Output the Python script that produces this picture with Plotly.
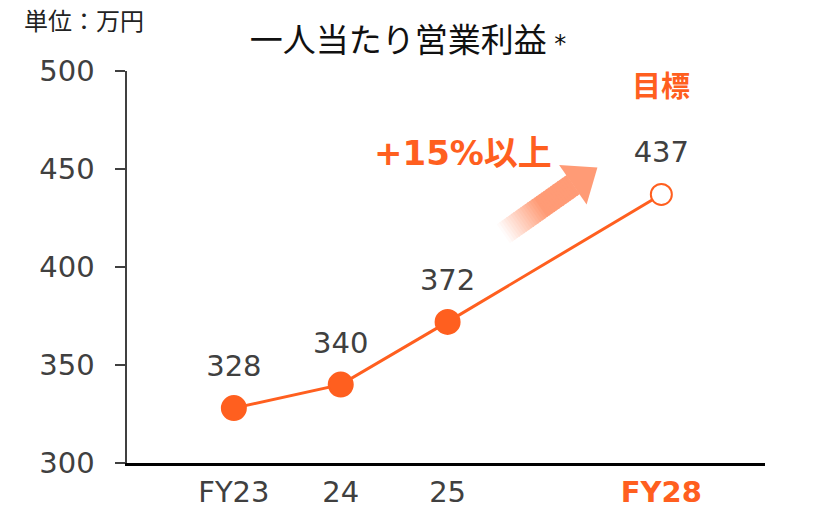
import math
import plotly.graph_objects as go

# ---- data ----
categories = ["FY23", "24", "25", "FY28"]
x_pos = [0, 1, 2, 4]
values = [328, 340, 372, 437]
y_ticks = [300, 350, 400, 450, 500]

ORANGE = "#FF5F1F"
GRAY = "#404040"
FONT = "DejaVu Sans, Noto Sans CJK JP, sans-serif"

fig = go.Figure()

fig.add_trace(go.Scatter(
    x=x_pos, y=values,
    mode="lines+markers",
    line=dict(color=ORANGE, width=3),
    marker=dict(size=[24, 24, 24, 21], opacity=1,
                color=[ORANGE, ORANGE, ORANGE, "white"],
                line=dict(color=ORANGE, width=2)),
    cliponaxis=False,
    hoverinfo="skip",
))
# value labels (invisible larger markers give the label offset)
fig.add_trace(go.Scatter(
    x=x_pos, y=values,
    mode="markers+text",
    text=[str(v) for v in values],
    textposition="top center",
    textfont=dict(size=29, color=GRAY, family=FONT),
    marker=dict(size=38, opacity=0),
    cliponaxis=False,
    hoverinfo="skip",
))

# ---- gradient arrow (decoration) ----
def px2x(px):
    return (px - 233) / 107.0

def py2y(py):
    return 300 + (463 - py) / 1.95

tip = (597.0, 169.0)
ang = math.radians(35)
u = (math.cos(ang), -math.sin(ang))
n = (math.sin(ang), math.cos(ang))
head_len = 30.0
head_hw = 24.0
shaft_hw = 11.5
shaft_len = 85.0
base = (tip[0] - u[0] * head_len, tip[1] - u[1] * head_len)

N = 30
c_start = (255, 255, 255)
c_end = (255, 155, 118)
for i in range(N):
    t0 = i / N
    t1 = min((i + 1) / N + 0.01, 1.0)
    a = (base[0] - u[0] * shaft_len * (1 - t0), base[1] - u[1] * shaft_len * (1 - t0))
    b = (base[0] - u[0] * shaft_len * (1 - t1) + u[0] * 0.5,
         base[1] - u[1] * shaft_len * (1 - t1) + u[1] * 0.5)
    f = min(1.0, (t0 + 0.5 / N) / 0.55)
    col = tuple(int(c_start[k] + (c_end[k] - c_start[k]) * f) for k in range(3))
    pts = [
        (a[0] + n[0] * shaft_hw, a[1] + n[1] * shaft_hw),
        (b[0] + n[0] * shaft_hw, b[1] + n[1] * shaft_hw),
        (b[0] - n[0] * shaft_hw, b[1] - n[1] * shaft_hw),
        (a[0] - n[0] * shaft_hw, a[1] - n[1] * shaft_hw),
    ]
    path = "M " + " L ".join(f"{px2x(p[0])},{py2y(p[1])}" for p in pts) + " Z"
    fig.add_shape(type="path", path=path, xref="x", yref="y",
                  fillcolor=f"rgb{col}", line=dict(width=0), layer="below")

head = [
    (base[0] + n[0] * head_hw, base[1] + n[1] * head_hw),
    tip,
    (base[0] - n[0] * head_hw, base[1] - n[1] * head_hw),
]
path = "M " + " L ".join(f"{px2x(p[0])},{py2y(p[1])}" for p in head) + " Z"
fig.add_shape(type="path", path=path, xref="x", yref="y",
              fillcolor=f"rgb{c_end}", line=dict(width=0), layer="below")

# ---- annotations ----
fig.add_annotation(x=4, y=492, xref="x", yref="y", text="<b>目標</b>",
                   showarrow=False, font=dict(size=29, color=ORANGE, family=FONT))
fig.add_annotation(x=px2x(462), y=py2y(155), xref="x", yref="y", text="<b>+15%以上</b>",
                   showarrow=False, font=dict(size=34, color=ORANGE, family=FONT))
fig.add_annotation(x=(22 - 127) / 638, y=(463 - 22) / 392, xref="paper", yref="paper",
                   text="単位：万円", showarrow=False, xanchor="left", yanchor="middle",
                   font=dict(size=24, color="#222222", family=FONT))

tick_text = ["FY23", "24", "25", f"<b><span style='color:{ORANGE}'>FY28</span></b>"]

fig.update_layout(
    width=826, height=508,
    margin=dict(l=127, r=61, t=71, b=45),
    paper_bgcolor="white", plot_bgcolor="white",
    showlegend=False,
    font=dict(family=FONT, color=GRAY),
    title=dict(text="一人当たり営業利益<span style='font-size:24px'> *</span>",
               x=408 / 826, xanchor="center",
               y=1 - 40 / 508, yanchor="middle", yref="container",
               automargin=False,
               font=dict(size=33, color="#111111", family=FONT)),
    xaxis=dict(range=[-1, 4.97], tickmode="array", tickvals=x_pos, ticktext=tick_text,
               showgrid=False, zeroline=False, showline=True, linecolor="black",
               linewidth=2.5, ticks="", tickfont=dict(size=29, color=GRAY),
               ticklabelstandoff=2, automargin=False, fixedrange=True),
    yaxis=dict(range=[300, 500], tickmode="array", tickvals=y_ticks,
               showgrid=False, zeroline=False, showline=True, linecolor=GRAY,
               linewidth=2.5, ticks="outside", ticklen=10, tickwidth=2, tickcolor=GRAY,
               tickfont=dict(size=29, color=GRAY), ticklabelstandoff=14,
               automargin=False, fixedrange=True),
)

fig.write_html("out.html", config={"displayModeBar": False, "staticPlot": True},
               post_script="document.body.style.margin='0';")
